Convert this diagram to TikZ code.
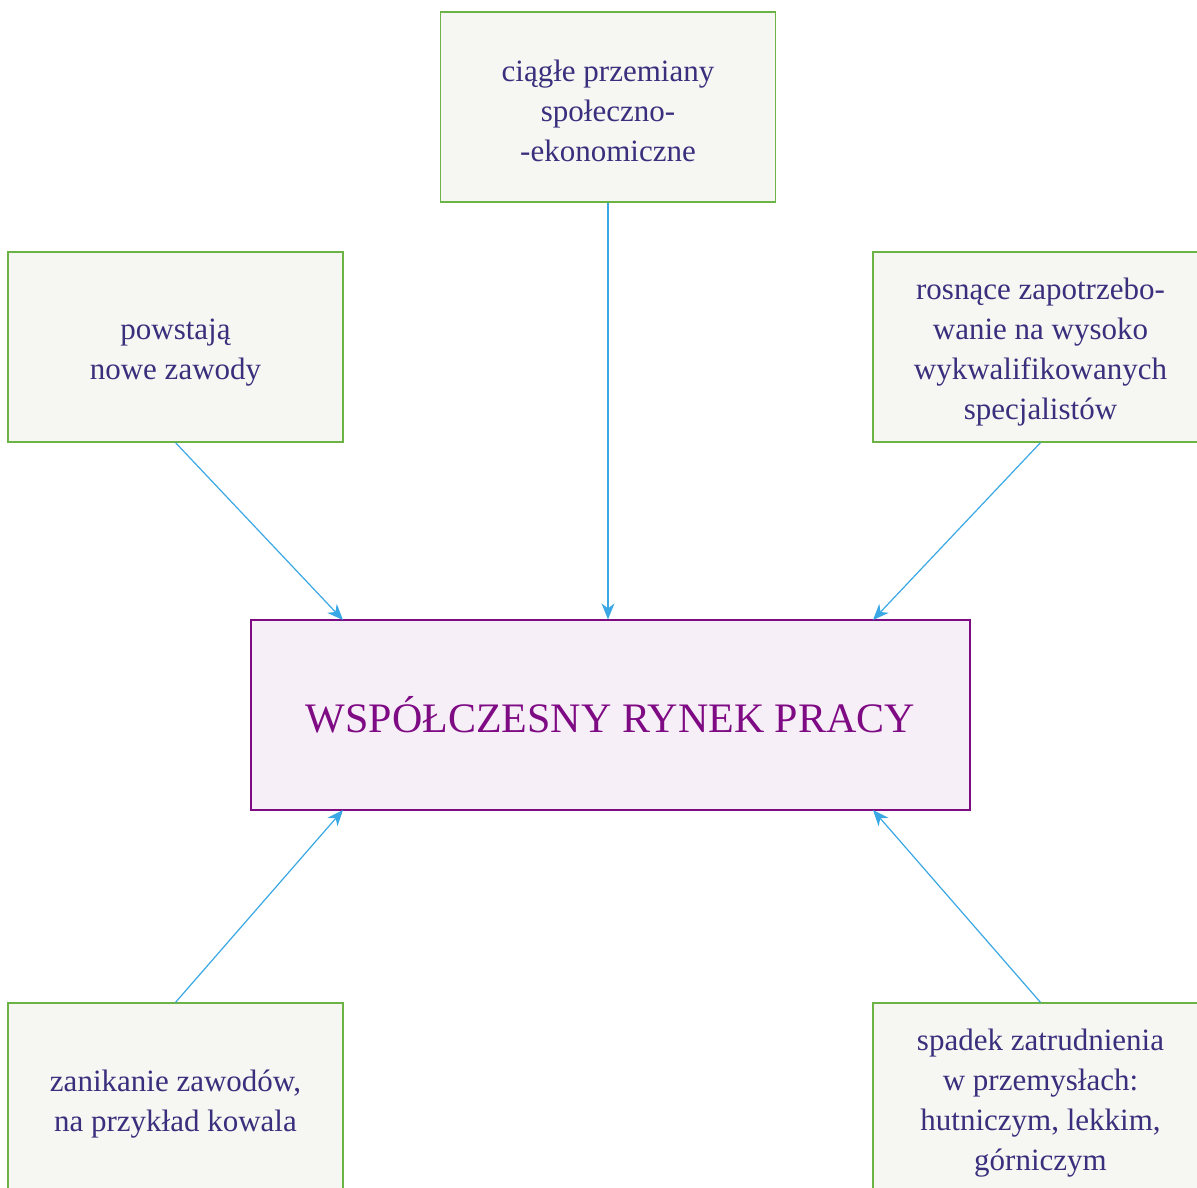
\documentclass[tikz,border=0pt]{standalone}
\usepackage{fontspec}
\setmainfont{Liberation Serif}
\usetikzlibrary{arrows.meta}
\definecolor{boxfill}{HTML}{F6F7F2}
\definecolor{boxline}{HTML}{6AB344}
\definecolor{mainfill}{HTML}{F7EFF7}
\definecolor{mainline}{HTML}{7E0A84}
\definecolor{txt}{HTML}{3A2F7D}
\definecolor{arr}{HTML}{3AA8E4}
\tikzset{
  x=1pt,y=-1pt,
  gbox/.style={draw=boxline,line width=1.2pt,fill=boxfill,minimum width=335pt,minimum height=190pt,inner sep=0pt},
  gtxt/.style={text=txt,align=center,font=\fontsize{31}{40}\selectfont,inner sep=0pt},
  mbox/.style={draw=mainline,line width=1.2pt,fill=mainfill,minimum width=719pt,minimum height=190pt,
    text=mainline,font=\fontsize{42}{48}\selectfont,inner sep=0pt},
  conn/.style={draw=arr,line width=1.2pt,-{Stealth[length=16pt,width=13pt,inset=5pt]}}
}
\begin{document}
\begin{tikzpicture}
\clip (0,0) rectangle (1197,1187);
\fill[white] (0,0) rectangle (1197,1187);
\node[gbox] (top) at (608,107) {};
\node[gtxt] (topt) at ([yshift=-4pt]top.center) {ciągłe przemiany\\społeczno-\\-ekonomiczne};
\node[gbox] (left) at (175.5,347) {};
\node[gtxt] (leftt) at ([yshift=-6pt]left.center) {powstają\\nowe zawody};
\node[gbox] (right) at (1040.5,347) {};
\node[gtxt] (rightt) at ([yshift=-5pt]right.center) {rosnące zapotrzebo-\\wanie na wysoko\\wykwalifikowanych\\specjalistów};
\node[gbox] (bl) at (175.5,1098) {};
\node[gtxt] (blt) at ([yshift=-6pt]bl.center) {zanikanie zawodów,\\na przykład kowala};
\node[gbox] (br) at (1040.5,1098) {};
\node[gtxt] (brt) at ([yshift=-5pt]br.center) {spadek zatrudnienia\\w przemysłach:\\hutniczym, lekkim,\\górniczym};
\node[mbox] (main) at (610.5,715) {WSPÓŁCZESNY RYNEK PRACY};
\coordinate (mtl) at (343,620);
\coordinate (mtr) at (873,620);
\coordinate (mbl) at (343,810);
\coordinate (mbr) at (873,810);
\draw[conn] (top.south) -- (top.south |- main.north);
\draw[conn] (left.south) -- (mtl);
\draw[conn] (right.south) -- (mtr);
\draw[conn] (bl.north) -- (mbl);
\draw[conn] (br.north) -- (mbr);
\end{tikzpicture}
\end{document}
